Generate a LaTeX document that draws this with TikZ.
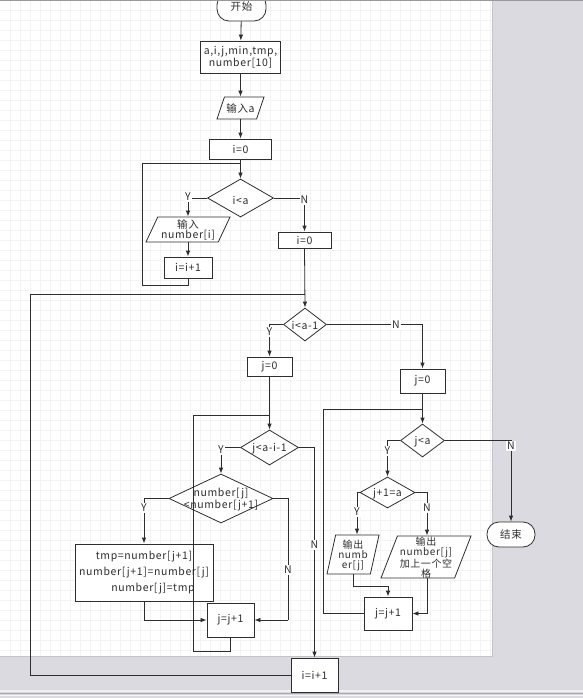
\documentclass[tikz,border=0pt]{standalone}
\usepackage{fontspec}
\setmainfont{Noto Sans CJK SC}[LetterSpace=6]
\usetikzlibrary{shapes.geometric,arrows.meta}
\definecolor{pagegrey}{HTML}{DADAE0}
\definecolor{ink}{HTML}{2E2E2E}
\definecolor{gridc}{HTML}{F3F3F5}
\definecolor{edgec}{HTML}{C4C4C8}
\tikzset{
 base/.style={draw=ink, line width=0.8pt, fill=white, inner sep=0pt, align=center, text=ink},
 proc/.style={base, rectangle},
 term/.style={base, rectangle, rounded corners=12pt},
 dec/.style={base, diamond, inner sep=1pt},
 io/.style={base, trapezium, trapezium stretches=true, inner sep=1pt},
 txt/.style={inner sep=0pt, align=center, text=ink},
 arr/.style={draw=ink, line width=0.8pt, -{Latex[length=6pt,width=4.5pt]}},
 ln/.style={draw=ink, line width=0.8pt},
 lab/.style={fill=white, inner sep=1pt, text=ink},
}
\begin{document}
\begin{tikzpicture}[x=1pt,y=-1pt,font=\fontsize{10.5}{10}\selectfont]
\useasboundingbox (0,0) rectangle (583,698);
% background
\fill[pagegrey] (0,0) rectangle (583,698);
\fill[white] (0,0) rectangle (492,656);
\foreach \gx in {10,20,...,490} \draw[gridc, line width=0.4pt] (\gx,0) -- (\gx,656);
\foreach \gy in {10,20,...,650} \draw[gridc, line width=0.4pt] (0,\gy) -- (492,\gy);
\draw[edgec, line width=1pt] (492.5,0) -- (492.5,656.5) -- (0,656.5);
\fill[white!60!pagegrey] (0,689.5) rectangle (583,691.5);
\draw[black!35, line width=0.8pt] (0,693) -- (583,693);
\fill[white!70!pagegrey] (0,694.5) rectangle (583,696);

% nodes
\node[term, minimum width=49pt, minimum height=28pt] (start) at (241.5,7) {开始};
\node[proc, minimum width=80pt, minimum height=32pt, font=\fontsize{10.5}{9.5}\selectfont] (decl) at (240.5,57) {a,i,j,min,tmp,\\number[10]};
\node[io, trapezium left angle=77, trapezium right angle=103, minimum width=47pt, minimum height=22pt] (ina) at (240.5,108) {};
\node[txt] at (ina) {输入a};
\node[proc, minimum width=62pt, minimum height=20pt] (i0) at (240.5,149) {i=0};
\node[dec, minimum width=66pt, minimum height=38pt] (d1) at (240.5,198) {};
\node[txt] at ([yshift=-2pt]d1.center) {i<a};
\node[io, trapezium left angle=79, trapezium right angle=101, minimum width=84pt, minimum height=25pt] (ini) at (188,229.5) {};
\node[txt, font=\fontsize{10.5}{10}\selectfont] at (ini) {输入\\number[i]};
\node[proc, minimum width=48pt, minimum height=21pt] (inc1) at (188,267.5) {i=i+1};
\node[proc, minimum width=53pt, minimum height=16pt] (i0b) at (304.5,240) {i=0};
\node[dec, minimum width=43pt, minimum height=33pt] (d2) at (305,324.5) {};
\node[txt] at ([yshift=-1pt]d2.center) {i<a-1};
\node[proc, minimum width=45pt, minimum height=19pt] (j0a) at (269.5,366.5) {j=0};
\node[proc, minimum width=45pt, minimum height=24pt] (j0b) at (422.5,381) {j=0};
\node[dec, minimum width=58pt, minimum height=35pt] (d3) at (269.5,447.5) {};
\node[txt] at ([yshift=-1pt]d3.center) {j<a-i-1};
\node[dec, minimum width=104pt, minimum height=49pt] (d4) at (221,498.5) {};
\node[txt, font=\fontsize{10.5}{10}\selectfont] at ([yshift=-1pt]d4.center) {number[j]\\<number[j+1]};
\node[proc, minimum width=138pt, minimum height=57pt, font=\fontsize{10.5}{16}\selectfont] (swap) at (144,572.5) {tmp=number[j+1]\\number[j+1]=number[j]\\\hspace*{18pt}number[j]=tmp};
\node[proc, minimum width=47pt, minimum height=34pt] (incj1) at (230.5,620) {j=j+1};
\node[proc, minimum width=47pt, minimum height=34pt] (inci) at (314.5,675) {i=i+1};
\node[dec, minimum width=44pt, minimum height=33pt] (d5) at (422.5,440.5) {};
\node[txt] at ([yshift=-1pt]d5.center) {j<a};
\node[term, minimum width=48pt, minimum height=25pt] (end) at (511,534.5) {结束};
\node[dec, minimum width=55pt, minimum height=31pt] (d6) at (387.5,492.5) {};
\node[txt] at ([yshift=-1pt]d6.center) {j+1=a};
\node[io, trapezium left angle=76, trapezium right angle=104, minimum width=52pt, minimum height=39pt] (out1) at (353,554.5) {};
\node[txt, font=\fontsize{10}{10}\selectfont] at ([yshift=-1pt]out1.center) {输出\\numb\\er[j]};
\node[io, trapezium left angle=74, trapezium right angle=106, minimum width=90pt, minimum height=42pt] (out2) at (426,557) {};
\node[txt, font=\fontsize{10}{10}\selectfont] at ([yshift=-1pt]out2.center) {输出\\number[j]\\加上一个空\\格};
\node[proc, minimum width=48pt, minimum height=33pt] (incj2) at (388,613.5) {j=j+1};

% coordinates
\coordinate (jn1) at (240.5,163);
\coordinate (l1) at (142,285.7);
\coordinate (jn2) at (305,294);
\coordinate (l2) at (30,294);
\coordinate (jn3) at (269.5,415);
\coordinate (l3) at (193,651);
\coordinate (c4) at (288,620);
\coordinate (jn5) at (422.5,409);
\coordinate (l5) at (323,409);

% connectors
\draw[arr] (start) -- (decl);
\draw[arr] (decl) -- (ina);
\draw[arr] (ina) -- (i0);
\draw[arr] (i0) -- (d1);
\draw[ln] (inc1.south) |- (l1) |- (jn1);
\draw[arr] (d1.west) -| (ini.north);
\draw[arr] (ini) -- (inc1);
\draw[arr] (d1.east) -| (i0b.north);
\draw[arr] (i0b.south) -- (d2.north);
\draw[ln] (inci.west) -| (l2) -- (jn2);
\draw[arr] (d2.west) -| (j0a.north);
\draw[arr] (d2.east) -| (j0b.north);
\draw[arr] (j0a.south) -- (d3.north);
\draw[ln] (incj1.south) |- (l3) |- (jn3);
\draw[arr] (d3.west) -| (d4.north);
\draw[arr] (d4.west) -| (swap.north);
\draw[arr] (swap.south) |- (incj1.west);
\draw[ln] (d4.east) -| (c4);
\draw[arr] (c4) -- (incj1.east);
\draw[arr] (d3.east) -| (inci.north);
\draw[arr] (j0b.south) -- (d5.north);
\draw[ln] (incj2.west) -| (l5) -- (jn5);
\draw[arr] (d5.east) -| (end.north);
\draw[arr] (d5.west) -| (d6.north);
\draw[arr] (d6.west) -| ([xshift=4pt]out1.north);
\draw[arr] (d6.east) -| ([xshift=1pt]out2.north);
\draw[arr] (out1.south) -- ++(0,12) -| (incj2.north);
\draw[arr] ([xshift=1pt]out2.south) |- (incj2.east);

% labels
\node[lab] (y1) at (188,197) {Y};
\node[lab] (n1) at (304.5,200) {N};
\node[lab] (y2) at (269.5,332) {Y};
\node[lab] (n2) at (396,325) {N};
\node[lab] (y3) at (221,450) {Y};
\node[lab] (n3) at (314.5,545) {N};
\node[lab] (y4) at (144,508) {Y};
\node[lab] (n4) at (288,570) {N};
\node[lab] (y5) at (387.5,451) {Y};
\node[lab] (n5) at (511,446) {N};
\node[lab] (y6) at (357,512) {Y};
\node[lab] (n6) at (427,508) {N};

\draw[black!40, line width=1pt] (0,0.5) -- (583,0.5);
\end{tikzpicture}
\end{document}
